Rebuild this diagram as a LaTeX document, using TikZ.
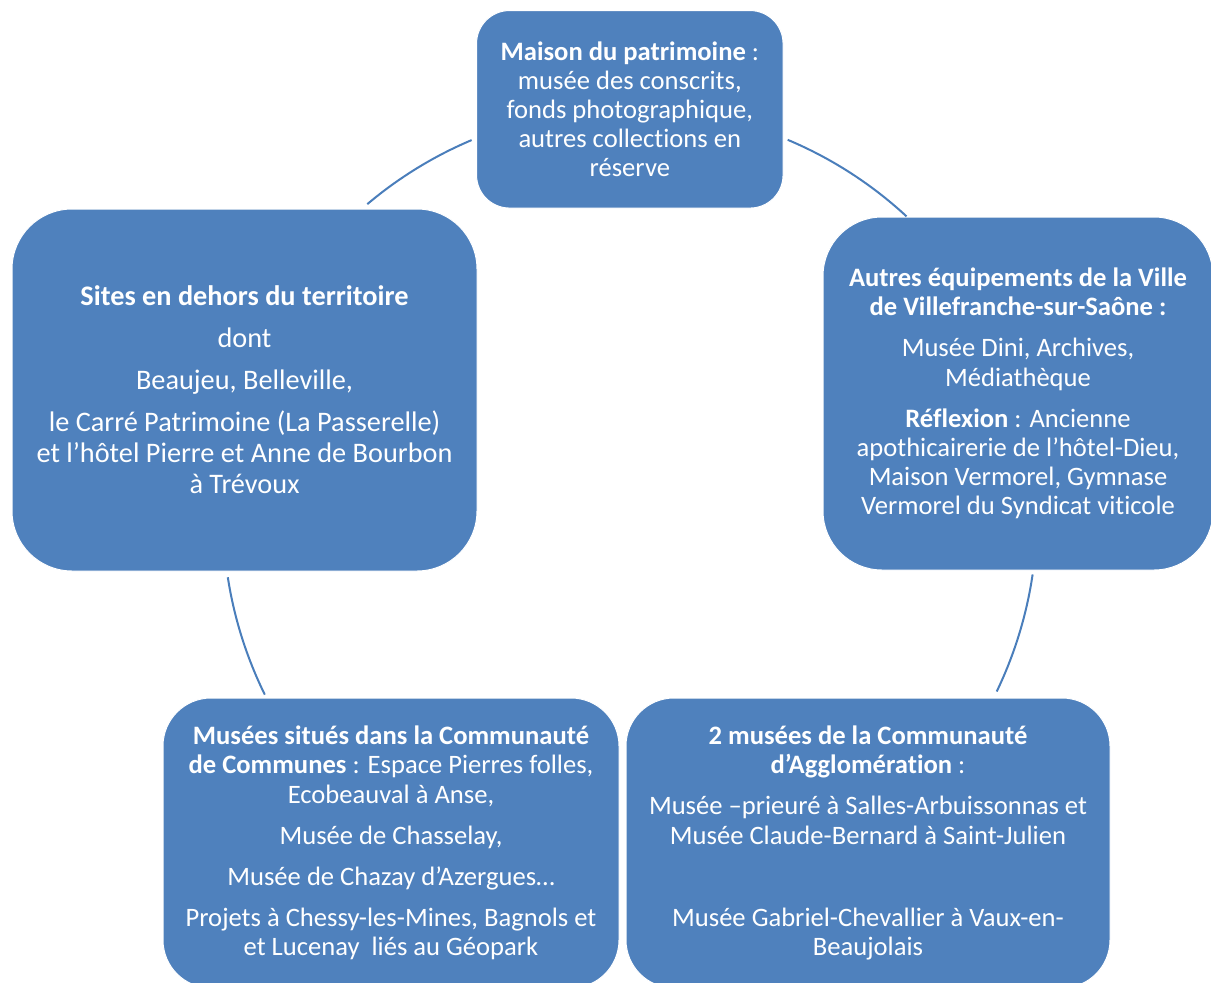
\documentclass[tikz,border=0pt]{standalone}
\usepackage{fontspec}
\setmainfont[Ligatures=NoCommon]{Carlito}
\usetikzlibrary{calc}
\definecolor{boxblue}{HTML}{4F81BD}
\definecolor{linkblue}{HTML}{4A7EBB}
\begin{document}
\begin{tikzpicture}[x=1pt,y=1pt,
  box/.style={fill=boxblue, draw=white, line width=1pt, text=white, align=center,
    inner sep=0pt, font=\fontsize{26.6}{29.2}\selectfont},
  bigbox/.style={box, font=\fontsize{28.3}{31}\selectfont},
  link/.style={draw=linkblue, line width=2pt}]
\useasboundingbox (0,0) rectangle (1211,-983);
\clip (0,0) rectangle (1211,-983);
\def\gap{12pt}
\coordinate (c) at (630,-515);

\node[box, minimum width=306.5pt, minimum height=197.5pt, rounded corners=33pt] (top) at (629.8,-109.3)
  {\textbf{Maison du patrimoine} :\\ musée des conscrits,\\ fonds photographique,\\ autres collections en\\ réserve};

\node[bigbox, minimum width=465pt, minimum height=362pt, rounded corners=60pt] (left) at (244.5,-390)
  {\textbf{Sites en dehors du territoire}\\[11pt] dont\\[11pt] Beaujeu, Belleville,\\[11pt]
   le Carré Patrimoine (La Passerelle)\\ et l’hôtel Pierre et Anne de Bourbon\\ à Trévoux};

\node[box, minimum width=390pt, minimum height=353pt, rounded corners=59pt] (right) at (1018,-393.5)
  {\textbf{Autres équipements de la Ville}\\ \textbf{de Villefranche-sur-Saône :}\\[\gap]
   Musée Dini, Archives,\\ Médiathèque\\[\gap]
   \textbf{Réflexion} : Ancienne\\ apothicairerie de l’hôtel-Dieu,\\ Maison Vermorel, Gymnase\\ Vermorel du Syndicat viticole};

\node[box, minimum width=456pt, minimum height=290pt, rounded corners=48pt] (bl) at (391,-843)
  {\textbf{Musées situés dans la Communauté}\\ \textbf{de Communes} : Espace Pierres folles,\\ Ecobeauval à Anse,\\[\gap]
   Musée de Chasselay,\\[\gap] Musée de Chazay d’Azergues…\\[\gap]
   Projets à Chessy-les-Mines, Bagnols et\\ et Lucenay\ \ liés au Géopark};

\node[box, minimum width=484pt, minimum height=290pt, rounded corners=48pt] (br) at (868,-843)
  {\textbf{2 musées de la Communauté}\\ \textbf{d’Agglomération} :\\[\gap]
   Musée –prieuré à Salles-Arbuissonnas et\\ Musée Claude-Bernard à Saint-Julien\\[\gap]
   \mbox{}\\[\gap] Musée Gabriel-Chevallier à Vaux-en-\\ Beaujolais};

\coordinate (a1) at ($(c)+(130.2:407pt)$);
\coordinate (a2) at ($(c)+(67.2:407pt)$);
\coordinate (a3) at ($(c)+(-8.4:407pt)$);
\coordinate (a4) at ($(c)+(188.8:407pt)$);
\draw[link] (a1) arc[start angle=130.2, end angle=112.9, radius=407pt];
\draw[link] (a2) arc[start angle=67.2, end angle=47.2, radius=407pt];
\draw[link] (a3) arc[start angle=-8.4, end angle=-25.7, radius=407pt];
\draw[link] (a4) arc[start angle=188.8, end angle=206.2, radius=407pt];
\end{tikzpicture}
\end{document}
